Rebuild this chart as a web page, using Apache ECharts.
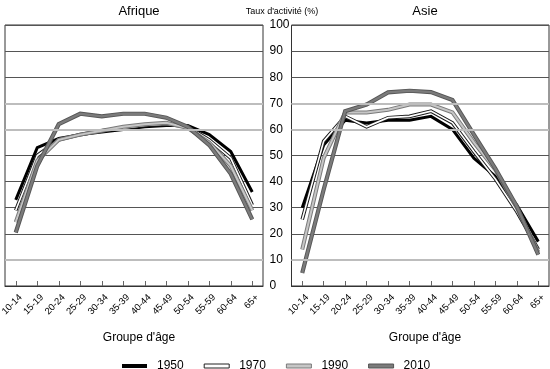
<!DOCTYPE html>
<html><head><meta charset="utf-8">
<script src="https://cdn.jsdelivr.net/npm/echarts@6/dist/echarts.min.js"></script>
<style>html,body{margin:0;padding:0;background:#fff}#c{width:550px;height:369px}</style>
</head><body><div id="c"></div>
<script>
const categories = ['10-14','15-19','20-24','25-29','30-34','35-39','40-44','45-49','50-54','55-59','60-64','65+'];
const years = ['1950','1970','1990','2010'];
const afrique1950 = [33, 53, 56.5, 58, 59, 60, 61, 61.5, 61.5, 58, 51.5, 36];
const afrique1970 = [29, 50, 56, 58, 59.5, 60.5, 61.5, 62, 61, 56, 49, 31];
const afrique1990 = [24.5, 48, 56, 58, 59.5, 61, 62, 62.5, 60.5, 55, 46, 29];
const afrique2010 = [20.5, 46, 62, 66, 65, 66, 66, 64.5, 61, 54, 43, 25.5];
const asie1950 = [30, 54, 63.5, 62.5, 63.5, 63.5, 65, 60, 49, 42, 31, 17];
const asie1970 = [25.5, 55.5, 65, 61, 64.5, 65, 67, 62.5, 51.5, 41, 28.5, 14];
const asie1990 = [14, 49, 66.5, 66.5, 67.5, 69.5, 69.5, 66.5, 55, 44.5, 30, 13];
const asie2010 = [5, 37, 67, 69.5, 74.2, 74.8, 74.3, 71.3, 58, 45, 30.5, 12];
const yTicks = [0,10,20,30,40,50,60,70,80,90,100];
const lightLevels = [10, 60, 70];
const panelTitles = ['Afrique', 'Asie'];
const yTitle = "Taux d'activité (%)";
const xTitle = "Groupe d'âge";

const FONT = "'Liberation Sans', Arial, sans-serif";
const styles = {
  '1950': [{color:'#000', width:3}],
  '1970': [{color:'#1a1a1a', width:3.6}, {color:'#fff', width:1.6}],
  '1990': [{color:'#7a7a7a', width:4}, {color:'#c6c6c6', width:2}],
  '2010': [{color:'#555', width:4.2}, {color:'#7b7b7b', width:2.4}]
};
const dataSets = [
  {'1950': afrique1950, '1970': afrique1970, '1990': afrique1990, '2010': afrique2010},
  {'1950': asie1950, '1970': asie1970, '1990': asie1990, '2010': asie2010}
];
const gridColors = yTicks.map(v => lightLevels.indexOf(v) >= 0 ? '#bdbdbd' : '#555');

const chart = echarts.init(document.getElementById('c'), null, {renderer:'canvas'});
const grids = [
  {left:5, top:25, width:258, height:261},
  {left:291.5, top:25, width:257.5, height:261}
];
const series = [];
[0,1].forEach(gi => {
  series.push({
    type:'line', name:'_grid'+gi, xAxisIndex:gi, yAxisIndex:gi, data:[], z:1, silent:true,
    markLine:{silent:true, symbol:'none', label:{show:false}, lineStyle:{color:'#bdbdbd', width:2, type:'solid'},
      data: lightLevels.map(v => ({yAxis:v}))}
  });
  years.forEach(y => {
    styles[y].forEach((st, k) => {
      const isInner = k === styles[y].length - 1;
      series.push({
        type:'line', name: isInner ? y : y + '_o', xAxisIndex:gi, yAxisIndex:gi,
        data: dataSets[gi][y], symbol:'none', showSymbol:false,
        lineStyle:{color:st.color, width:st.width, join:'miter'}, itemStyle:{color:st.color},
        z: 2, silent:true, animation:false
      });
    });
  });
});

chart.setOption({
  animation:false,
  textStyle:{fontFamily:FONT},
  title:[
    {text:panelTitles[0], left:134, top:0, textAlign:'center', textStyle:{fontSize:13, fontWeight:'normal', color:'#000', fontFamily:FONT}},
    {text:panelTitles[1], left:420, top:0, textAlign:'center', textStyle:{fontSize:13, fontWeight:'normal', color:'#000', fontFamily:FONT}},
    {text:yTitle, left:277, top:2, textAlign:'center', textStyle:{fontSize:9, fontWeight:'normal', color:'#000', fontFamily:FONT}},
    {text:xTitle, left:134, top:327, textAlign:'center', textStyle:{fontSize:12, fontWeight:'normal', color:'#000', fontFamily:FONT}},
    {text:xTitle, left:420, top:327, textAlign:'center', textStyle:{fontSize:12, fontWeight:'normal', color:'#000', fontFamily:FONT}}
  ],
  legend:{
    left:117, top:355, itemWidth:25, itemHeight:4, itemGap:20,
    textStyle:{fontSize:12, color:'#000', fontFamily:FONT, padding:[0,0,0,5]},
    data:[
      {name:'1950', icon:'rect', itemStyle:{color:'#000', borderWidth:0}},
      {name:'1970', icon:'rect', itemStyle:{color:'#fff', borderColor:'#222', borderWidth:1}},
      {name:'1990', icon:'rect', itemStyle:{color:'#c6c6c6', borderColor:'#7a7a7a', borderWidth:1}},
      {name:'2010', icon:'rect', itemStyle:{color:'#7b7b7b', borderColor:'#555', borderWidth:1}}
    ]
  },
  grid: grids.map(g => Object.assign({show:true, borderColor:'#333', borderWidth:1, backgroundColor:'transparent', containLabel:false, outerBoundsMode:'none'}, g)),
  xAxis: [0,1].map(gi => ({
    type:'category', gridIndex:gi, data:categories, boundaryGap:true,
    axisLine:{show:true, lineStyle:{color:'#333', width:1}},
    axisTick:{show:true, inside:true, alignWithLabel:true, length:5, lineStyle:{color:'#666'}},
    axisLabel:{rotate:45, fontSize:9.5, color:'#000', margin:5, interval:0, fontFamily:FONT,
      verticalAlign:'top', padding:[2,0,0,0]},
    splitLine:{show:false}
  })),
  yAxis: [0,1].map(gi => ({
    type:'value', gridIndex:gi, min:0, max:100, interval:10,
    axisLine:{show:false}, axisTick:{show:false},
    axisLabel:{show: gi === 1, align:'left', margin:22, fontSize:12, color:'#000', fontFamily:FONT},
    splitLine:{show:true, lineStyle:{color:gridColors, width:1}}
  })),
  series: series
});
</script></body></html>
